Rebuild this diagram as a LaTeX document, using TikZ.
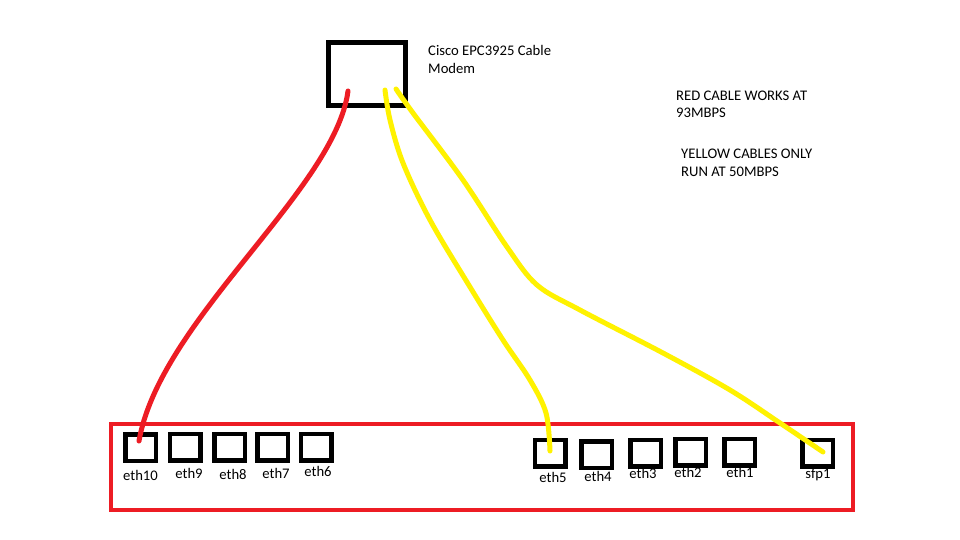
\documentclass[tikz,border=0pt]{standalone}
\usepackage{fontspec}
\setmainfont{Carlito}
\definecolor{paintred}{RGB}{237,28,36}
\definecolor{paintyellow}{RGB}{255,242,0}
\begin{document}
\begin{tikzpicture}[x=1pt,y=-1pt,
  txt/.style={inner sep=0pt,font=\fontsize{14.67}{17.5}\selectfont,text=black},
  port/.style={draw=black,line width=4.5pt,minimum width=30.5pt,minimum height=26.5pt,inner sep=0pt},
  cable/.style={line width=5pt,line cap=round,line join=round}]
\useasboundingbox[fill=white] (0,0) rectangle (960,540);
% modem
\node[draw=black,line width=5pt,minimum width=77pt,minimum height=63pt,inner sep=0pt] (modem) at (367,74) {};
\node[txt,anchor=base west] (m1) at (428,56) {Cisco EPC3925 Cable};
\node[txt,anchor=base west] (m2) at (428,73.5) {Modem};
% notes
\node[txt,anchor=base west] (n1) at (676,101) {RED CABLE WORKS AT};
\node[txt,anchor=base west] (n2) at (676,118) {93MBPS};
\node[txt,anchor=base west] (n3) at (681,159) {YELLOW CABLES ONLY};
\node[txt,anchor=base west] (n4) at (681,176) {RUN AT 50MBPS};
% switch
\node[draw=paintred,line width=4pt,minimum width=742pt,minimum height=86pt,inner sep=0pt] (switch) at (482,467) {};
% ports
\node[port] (eth10) at (140.5,447.5) {};
\node[port] (eth9) at (185,447) {};
\node[port] (eth8) at (229.5,447) {};
\node[port] (eth7) at (272.5,447) {};
\node[port] (eth6) at (316,447) {};
\node[port] (eth5) at (550,453) {};
\node[port] (eth4) at (596.5,454.5) {};
\node[port] (eth3) at (645.5,453) {};
\node[port] (eth2) at (690.5,452) {};
\node[port] (eth1) at (739.5,452) {};
\node[port] (sfp1) at (817.5,453) {};
% port labels
\node[txt,anchor=base] (l10) at (140.5,480) {eth10};
\node[txt,anchor=base] (l9) at (189,478) {eth9};
\node[txt,anchor=base] (l8) at (233,479) {eth8};
\node[txt,anchor=base] (l7) at (276,478) {eth7};
\node[txt,anchor=base] (l6) at (318,476) {eth6};
\node[txt,anchor=base] (l5) at (553,482) {eth5};
\node[txt,anchor=base] (l4) at (598,481) {eth4};
\node[txt,anchor=base] (l3) at (643,478) {eth3};
\node[txt,anchor=base] (l2) at (688,477) {eth2};
\node[txt,anchor=base] (l1) at (740,477) {eth1};
\node[txt,anchor=base] (ls) at (818,478) {sfp1};
% cable ends
\coordinate (r0) at (348,91);
\coordinate (r1) at (139,441);
\coordinate (ya0) at (385,90);
\coordinate (ya1) at (550,451);
\coordinate (yb0) at (396,89);
\coordinate (yb1) at (823,452);
% cables
\draw[cable,paintred] (r0) .. controls (335,190) and (160,320) .. (r1);
\draw[cable,paintyellow] plot[smooth,tension=0.55] coordinates {(ya0) (390,120) (403,163) (430,220) (470,287) (503,340) (530,380) (546,413) (ya1)};
\draw[cable,paintyellow] plot[smooth,tension=0.55] coordinates {(yb0) (413,113) (463,180) (507,247) (537,285) (580,310) (663,353) (730,390) (780,423) (yb1)};
\end{tikzpicture}
\end{document}
